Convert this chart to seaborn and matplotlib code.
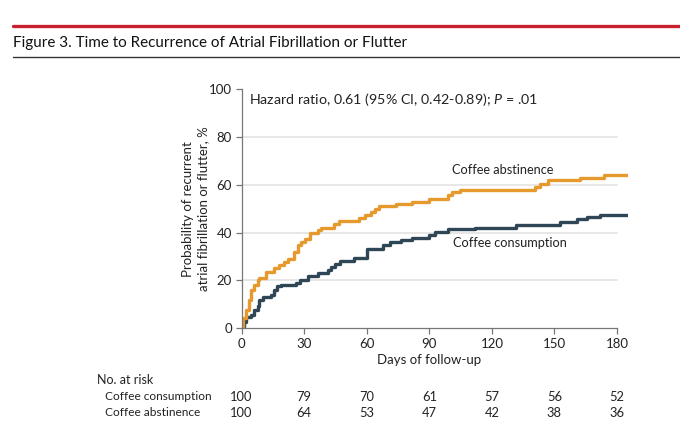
import matplotlib
matplotlib.use("Agg")
import matplotlib.pyplot as plt
from matplotlib.lines import Line2D
import matplotlib.transforms as mtransforms
import pandas as pd
import seaborn as sns

# curve data (step functions)
days_cons = [0, 1.4, 2.2, 4.6, 6.2, 7.8, 8.6, 10.2, 14.2, 15.8, 17.1, 19, 26.2, 27.8, 31.8,
             36.6, 41.4, 43, 44.6, 47, 54, 60, 67.8, 71, 76.6, 81.5, 90, 92.6, 99, 111.8,
             131.8, 152.6, 160.6, 165.4, 172, 185]
pct_cons = [0, 2.6, 4.7, 5.4, 7.5, 9.2, 11.7, 12.8, 13.8, 15.9, 17.6, 18, 19, 20, 21.8,
            22.9, 24.3, 25.7, 26.8, 28.2, 29.2, 33.3, 35, 36, 37, 37.8, 38.9, 40.3, 41.3, 42.1,
            43.1, 44.5, 45.5, 46.6, 47.3, 47.3]

days_abst = [0, 0.6, 2.2, 3.8, 4.6, 6.2, 7.8, 8.6, 11.8, 15.5, 18.2, 20.6, 22.2, 25, 27,
             28.6, 30.5, 32.6, 36.6, 38, 44.2, 46.9, 56.5, 59, 62, 64, 66, 74, 81.5, 90, 99,
             100.7, 104.6, 140.7, 143, 147, 162, 173.5, 185]
pct_abst = [0, 4, 7.5, 11.7, 15.9, 18, 20, 21, 23.6, 25, 26.4, 27.7, 29, 32, 34.7,
            36, 37.5, 40, 41, 42, 43.5, 45, 46, 47.3, 48.7, 50, 51, 52, 53, 54, 55.6,
            57, 58, 59, 60.5, 62, 63, 64, 64]

groups = ["Coffee consumption", "Coffee abstinence"]
risk_days = [0, 30, 60, 90, 120, 150, 180]
risk_cons = [100, 79, 70, 61, 57, 56, 52]
risk_abst = [100, 64, 53, 47, 42, 38, 36]

sns.set_style("white")
plt.rcParams["font.family"] = ["Lato", "DejaVu Sans"]
plt.rcParams["mathtext.fontset"] = "custom"
plt.rcParams["mathtext.it"] = "Lato:italic"
plt.rcParams["mathtext.rm"] = "Lato"

df = pd.concat([
    pd.DataFrame({"day": days_cons, "pct": pct_cons, "group": groups[0]}),
    pd.DataFrame({"day": days_abst, "pct": pct_abst, "group": groups[1]}),
])
colors = {groups[0]: "#2e4655", groups[1]: "#e69a2e"}
txt = "#222222"

W, H = 680, 430
fig = plt.figure(figsize=(6.8, 4.3), dpi=100)
ax = fig.add_axes([241.5 / W, 1 - 328 / H, 386 / W, (328 - 89.5) / H])

for y in [20, 40, 60, 80]:
    ax.plot([0, 180], [y, y], color="#e3e3e3", lw=1.2, zorder=0)

sns.lineplot(data=df, x="day", y="pct", hue="group", palette=colors, drawstyle="steps-post",
             lw=2.4, legend=False, ax=ax, estimator=None)

ax.set_xlim(0, 185)
ax.set_ylim(0, 100)
ax.set_xticks(risk_days)
ax.set_yticks([0, 20, 40, 60, 80, 100])
sns.despine(ax=ax)
ax.spines["bottom"].set_bounds(0, 180)
for s in ["left", "bottom"]:
    ax.spines[s].set_color("#777777")
    ax.spines[s].set_linewidth(0.9)
ax.tick_params(direction="out", length=4, width=0.9, color="#777777",
               labelsize=9.5, labelcolor=txt, pad=3)
ax.tick_params(axis="x", bottom=True)
ax.tick_params(axis="y", left=True)

ax.set_xlabel("Days of follow-up", fontsize=9.5, color=txt)
ax.xaxis.set_label_coords(90 / 185, -0.108)
ax.set_ylabel("Probability of recurrent\natrial fibrillation or flutter, %",
              fontsize=9.5, color=txt, linespacing=1.25)
ax.yaxis.set_label_coords(-0.085, 0.5)

ax.text(3.6, 95.6, "Hazard ratio, 0.61 (95% CI, 0.42-0.89); $P$ = .01",
        fontsize=10.3, color=txt, va="center")
ax.text(101, 66.2, "Coffee abstinence", fontsize=9.2, color=txt, va="center")
ax.text(101.4, 35.6, "Coffee consumption", fontsize=9.2, color=txt, va="center")

# title block
fig.add_artist(Line2D([13 / W, 1], [1 - 26 / H] * 2, color="#c9202f", lw=2.4))
fig.add_artist(Line2D([13 / W, 1], [1 - 57.3 / H] * 2, color="#333333", lw=1.0))
fig.text(13 / W, 1 - 43 / H, "Figure 3. Time to Recurrence of Atrial Fibrillation or Flutter",
         fontsize=11, color="#111111", va="center")

# number at risk table
fig.text(97 / W, 1 - 380 / H, "No. at risk", fontsize=9, color=txt, va="center")
trans = mtransforms.blended_transform_factory(ax.transData, fig.transFigure)
for row_y, name, vals in [(397, groups[0], risk_cons), (413, groups[1], risk_abst)]:
    fig.text(105 / W, 1 - row_y / H, name, fontsize=8.6, color=txt, va="center")
    for d, v in zip(risk_days, vals):
        ax.text(d, 1 - row_y / H, str(v), transform=trans, fontsize=9.3, color=txt,
                ha="center", va="center")

fig.savefig("out.png", dpi=100)
